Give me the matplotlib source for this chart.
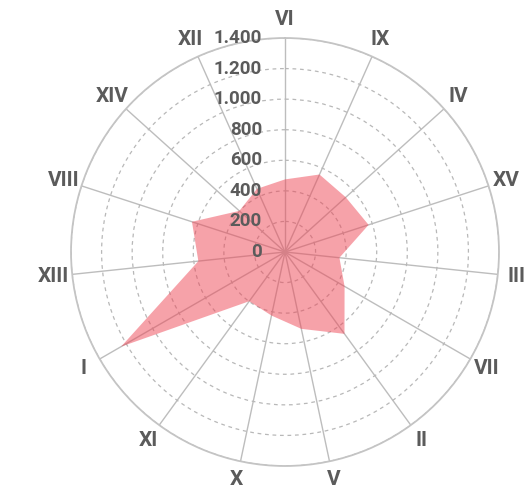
import numpy as np
import matplotlib
matplotlib.use("Agg")
import matplotlib.pyplot as plt

categories = ["VI", "IX", "IV", "XV", "III", "VII", "II", "V", "X", "XI", "I", "XIII", "VIII", "XIV", "XII"]
values = [475, 555, 535, 575, 358, 450, 662, 514, 425, 398, 1238, 570, 640, 402, 452]
r_ticks = [0, 200, 400, 600, 800, 1000, 1200, 1400]
r_tick_labels = ["0", "200", "400", "600", "800", "1.000", "1.200", "1.400"]

FONT = ["Roboto", "DejaVu Sans"]
TEXT_COLOR = "#5b5b5b"

fig = plt.figure(figsize=(5.24, 4.95), dpi=100)
ax = fig.add_axes([0.1355, 0.0586, 0.8168, 0.8646], projection="polar")
ax.set_theta_zero_location("N")
ax.set_theta_direction(-1)

n = len(categories)
theta = np.arange(n) * 2 * np.pi / n
tc = np.append(theta, theta[0])
vc = np.append(values, values[0])

ax.fill(tc, vc, color="#ee4655", alpha=0.5, lw=0, zorder=1)

ax.set_ylim(0, 1400)
ax.set_yticks(r_ticks)
ax.set_yticklabels([])
ax.set_xticks(theta)
ax.set_xticklabels([])
ax.xaxis.grid(True, color="#bdbdbd", linestyle="-", lw=1.0)
ax.yaxis.grid(True, color="#b8b8b8", linestyle=(0, (3, 3)), lw=0.9)
ax.set_axisbelow(True)
ax.spines["polar"].set_color("#c4c4c4")
ax.spines["polar"].set_linewidth(1.3)

for v, lab in zip(r_ticks, r_tick_labels):
    ax.annotate(lab, xy=(0, v), xytext=(-23, 0), textcoords="offset pixels",
                ha="right", va="center", fontsize=13.5, fontweight="bold",
                color=TEXT_COLOR, family=FONT, zorder=5, annotation_clip=False)

for t, lab in zip(theta, categories):
    ax.text(t, 1522, lab, ha="center", va="center", fontsize=15, fontweight="bold",
            color=TEXT_COLOR, family=FONT)

fig.savefig("out.png", dpi=100)
